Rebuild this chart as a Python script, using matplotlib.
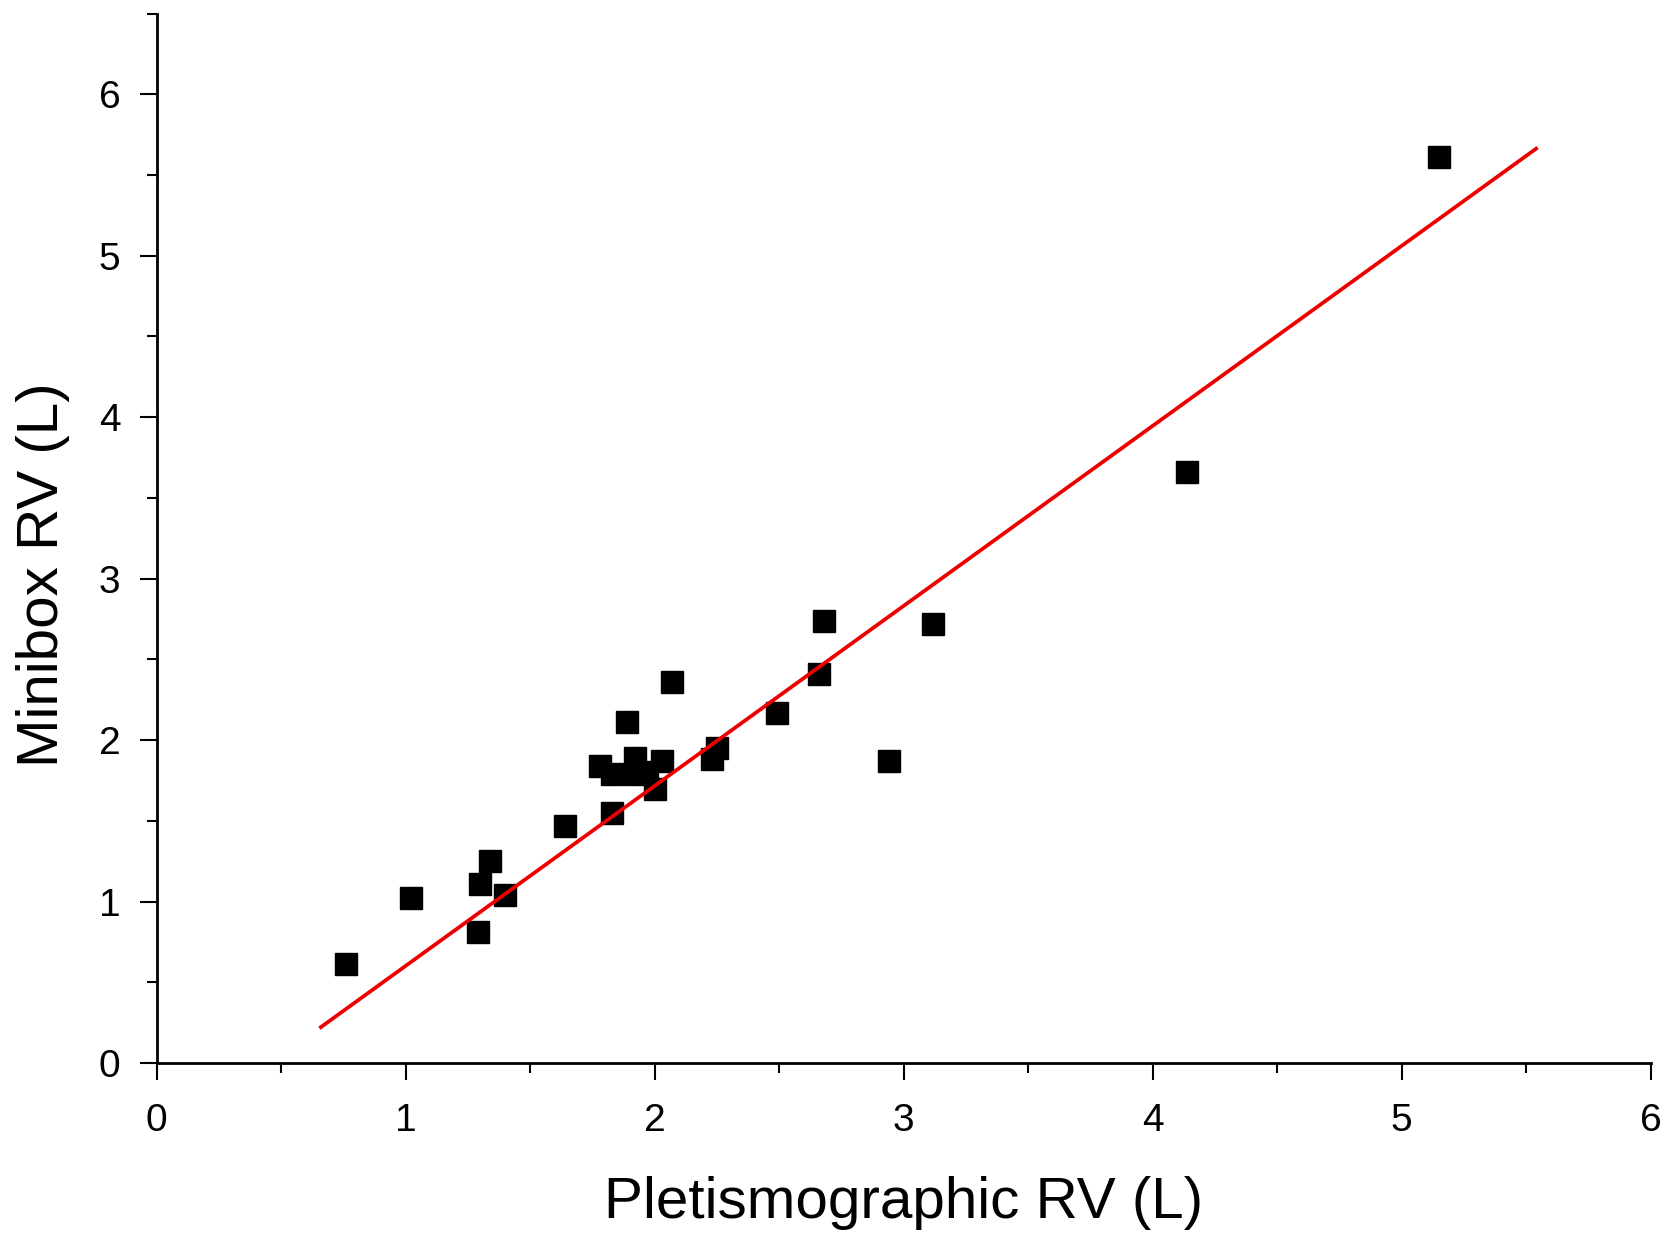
import matplotlib.pyplot as plt
from matplotlib.ticker import MultipleLocator

plt.rcParams['font.family'] = ['Liberation Sans', 'DejaVu Sans']

# Pletismographic RV (L) vs Minibox RV (L)
pleth_rv = [0.76, 1.02, 1.29, 1.30, 1.34, 1.40, 1.64, 1.83, 1.78, 1.83, 1.89,
            1.92, 1.92, 1.97, 2.00, 2.03, 2.07, 2.23, 2.25, 2.49, 2.66, 2.68,
            2.94, 3.12, 4.14, 5.15]
minibox_rv = [0.61, 1.02, 0.81, 1.11, 1.25, 1.04, 1.47, 1.55, 1.84, 1.79, 2.11,
              1.89, 1.79, 1.80, 1.70, 1.87, 2.36, 1.88, 1.95, 2.17, 2.41, 2.74,
              1.87, 2.72, 3.66, 5.61]

# regression line
fit_slope = 1.115
fit_intercept = -0.514
fit_x = [0.66, 5.54]

fig = plt.figure(figsize=(16.69, 12.36), dpi=100)
ax = fig.add_axes([0.0938, 0.140, 0.8952, 0.849])

ax.plot(pleth_rv, minibox_rv, 's', color='black', markersize=16, zorder=3)
ax.plot(fit_x, [fit_slope * x + fit_intercept for x in fit_x],
        color='#ee0000', linewidth=2.7, zorder=4)

ax.set_xlim(0, 6)
ax.set_ylim(0, 6.5)
ax.xaxis.set_major_locator(MultipleLocator(1))
ax.xaxis.set_minor_locator(MultipleLocator(0.5))
ax.yaxis.set_major_locator(MultipleLocator(1))
ax.yaxis.set_minor_locator(MultipleLocator(0.5))

for s in ['top', 'right']:
    ax.spines[s].set_visible(False)
for s in ['left', 'bottom']:
    ax.spines[s].set_linewidth(2)
    ax.spines[s].set_clip_on(False)

ax.tick_params(which='major', direction='out', length=12, width=1.5,
               labelsize=28)
ax.tick_params(axis='x', which='major', pad=17)
ax.tick_params(axis='y', which='major', pad=14)
ax.tick_params(which='minor', direction='out', length=7, width=1.5)

ax.set_xlabel('Pletismographic RV (L)', fontsize=42, va='center')
ax.set_ylabel('Minibox RV (L)', fontsize=42, va='center')
ax.xaxis.set_label_coords(0.5, -0.1335)
ax.yaxis.set_label_coords(-0.0763, 0.465)

fig.savefig('out.png', dpi=100)
